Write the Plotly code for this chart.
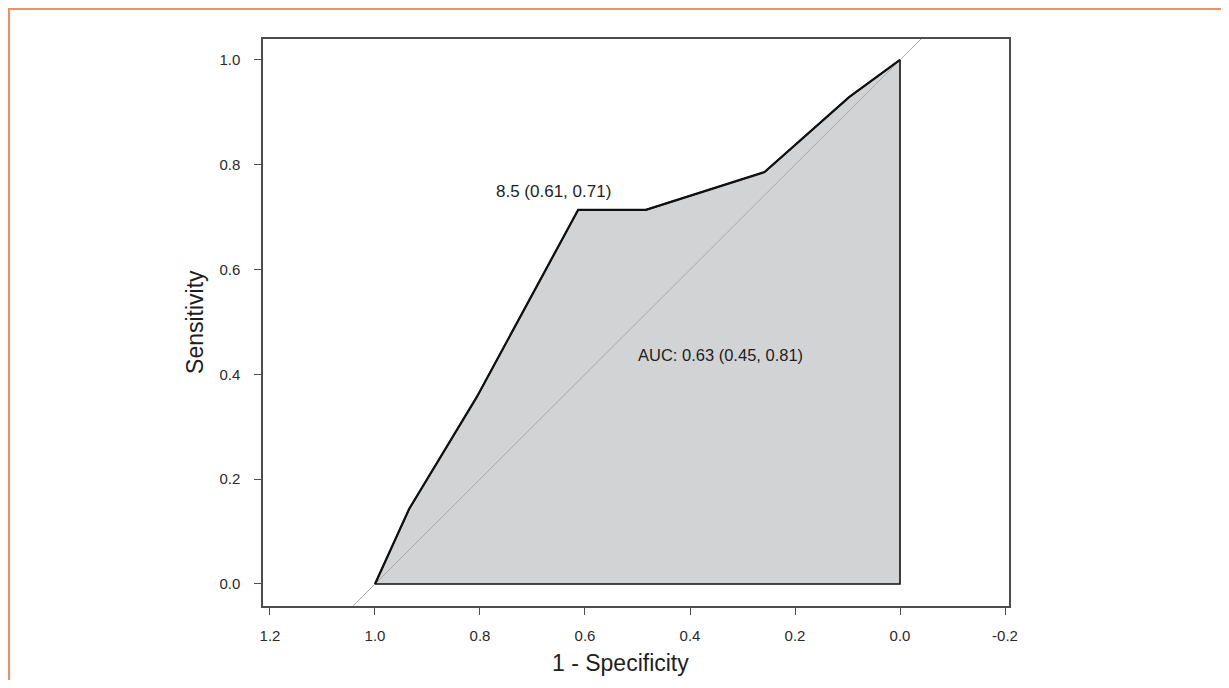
import plotly.graph_objects as go

# ROC curve points (specificity on reversed x axis, sensitivity on y)
specificity = [1.0, 0.935, 0.806, 0.613, 0.484, 0.258, 0.097, 0.0]
sensitivity = [0.0, 0.143, 0.357, 0.714, 0.714, 0.786, 0.929, 1.0]

x_ticks = [1.2, 1.0, 0.8, 0.6, 0.4, 0.2, 0.0, -0.2]
x_tick_labels = ["1.2", "1.0", "0.8", "0.6", "0.4", "0.2", "0.0", "-0.2"]
y_ticks = [0.0, 0.2, 0.4, 0.6, 0.8, 1.0]
y_tick_labels = ["0.0", "0.2", "0.4", "0.6", "0.8", "1.0"]

threshold_label = "8.5 (0.61, 0.71)"
auc_label = "AUC: 0.63 (0.45, 0.81)"
x_title = "1 - Specificity"
y_title = "Sensitivity"

FONT = "Liberation Sans, Arial, sans-serif"
TXT = "#1e1e1e"
AX = "#4d4d4d"

fig = go.Figure()

# polygon: curve + close down to (0,0) and back to (1,0)
poly_x = specificity + [specificity[-1], specificity[0]]
poly_y = sensitivity + [0.0, sensitivity[0]]
fig.add_trace(go.Scatter(
    x=poly_x, y=poly_y, mode="lines", fill="toself",
    fillcolor="#d2d3d5", line=dict(color="#111111", width=1.6),
    hoverinfo="skip", showlegend=False,
))

# chance diagonal (sens = 1 - spec), clipped by the plot area
diag_x = [1.4, -0.4]
diag_y = [1 - v for v in diag_x]
fig.add_trace(go.Scatter(
    x=diag_x, y=diag_y, mode="lines",
    line=dict(color="#a9a9a9", width=1),
    hoverinfo="skip", showlegend=False,
))

# ROC curve line on top
fig.add_trace(go.Scatter(
    x=specificity, y=sensitivity, mode="lines",
    line=dict(color="#111111", width=2.2),
    hoverinfo="skip", showlegend=False,
))

fig.add_annotation(x=0.660, y=0.749, xref="x", yref="y", text=threshold_label,
                   showarrow=False, xanchor="center", yanchor="middle",
                   font=dict(family=FONT, size=17, color=TXT))
fig.add_annotation(x=0.503, y=0.437, xref="x", yref="y", text=auc_label,
                   showarrow=False, xanchor="left", yanchor="middle",
                   font=dict(family=FONT, size=16.5, color=TXT))

# axis titles
fig.add_annotation(x=0.4786, y=-0.1005, xref="paper", yref="paper", text=x_title,
                   showarrow=False, xanchor="center", yanchor="middle",
                   font=dict(family=FONT, size=23, color=TXT))
fig.add_annotation(x=-0.0912, y=0.5009, xref="paper", yref="paper", text=y_title,
                   showarrow=False, xanchor="center", yanchor="middle", textangle=-90,
                   font=dict(family=FONT, size=23, color=TXT))

# orange frame (top and left edges)
fig.add_shape(type="path", xref="paper", yref="paper",
              path="M -0.3405,-0.14 L -0.3405,1.0529 L 1.31,1.0529",
              line=dict(color="#e8916b", width=2.2))

fig.update_xaxes(
    range=[1.2133, -0.2076], tickvals=x_ticks, ticktext=x_tick_labels,
    showgrid=False, zeroline=False, showline=True, mirror=True,
    linecolor=AX, linewidth=1.5, ticks="outside", ticklen=7, tickcolor=AX,
    tickwidth=1.3, ticklabelstandoff=8,
    tickfont=dict(family=FONT, size=15, color="#2a2a2a"),
)
fig.update_yaxes(
    range=[-0.042, 1.040], tickvals=y_ticks, ticktext=y_tick_labels,
    showgrid=False, zeroline=False, showline=True, mirror=True,
    linecolor=AX, linewidth=1.5, ticks="outside", ticklen=7, tickcolor=AX,
    tickwidth=1.3, ticklabelstandoff=11,
    tickfont=dict(family=FONT, size=15, color="#2a2a2a"),
)

fig.update_layout(
    width=1221, height=672,
    margin=dict(l=255, r=220, t=31, b=74),
    paper_bgcolor="white", plot_bgcolor="white",
    showlegend=False,
)

fig.write_html("out.html")
